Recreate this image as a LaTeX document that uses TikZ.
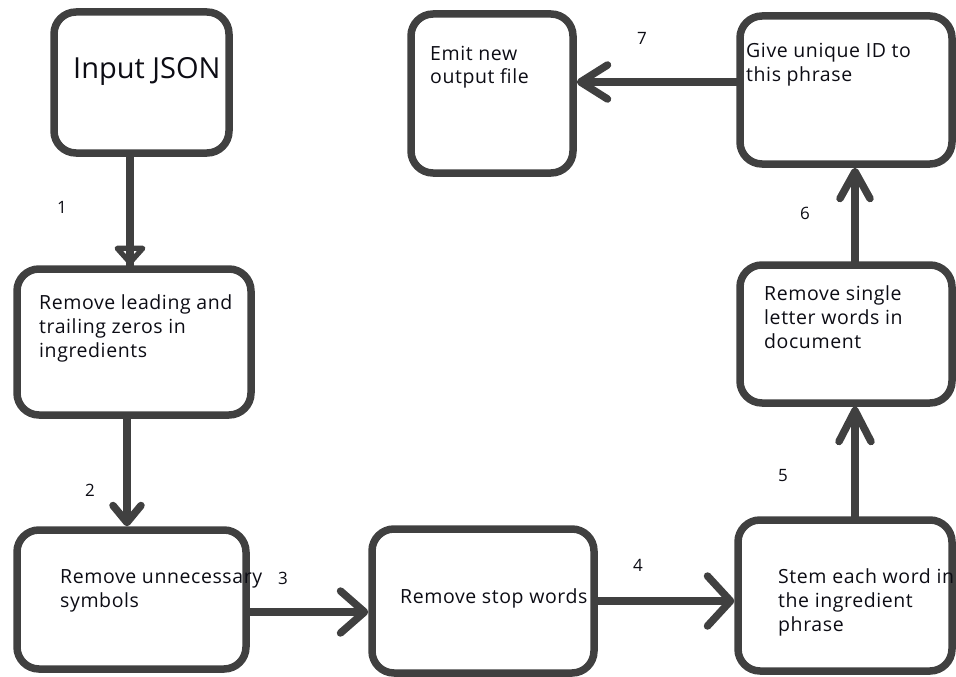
\documentclass[tikz,border=0pt]{standalone}
\usepackage{fontspec}
\setmainfont{Open Sans}
\newfontfamily\boxfont[LetterSpace=3]{Open Sans}
\usetikzlibrary{arrows.meta}

\definecolor{inkgray}{RGB}{64,64,64}
\definecolor{textdark}{RGB}{12,12,20}

% left-aligned block of lines whose baseline is the first line
\newcommand{\txtlines}[1]{\begin{tabular}[t]{@{}l@{}}#1\end{tabular}}

\begin{document}
\begin{tikzpicture}[x=1pt,y=-1pt,
  stepbox/.style 2 args={draw=inkgray, line width=7.5pt, rounded corners=22pt,
    minimum width=#1pt, minimum height=#2pt, inner sep=0pt},
  steptext/.style={anchor=base west, inner sep=0pt, text=textdark,
    font=\boxfont\fontsize{19.5}{24}\selectfont},
  steplabel/.style={anchor=base, inner sep=0pt, text=textdark,
    font=\fontsize{17}{20}\selectfont},
  conn/.style={draw=inkgray, line width=7.5pt, line cap=round},
  barb/.style 2 args={-{Straight Barb[length=#1pt,width=#2pt,round]}}
]
\useasboundingbox (0,0) rectangle (956,677);

% process boxes
\node[stepbox={175}{141}] (in) at (141.5,82.5) {};
\node[stepbox={234}{146}] (b2) at (134,342) {};
\node[stepbox={229}{139}] (b3) at (131.5,599.5) {};
\node[stepbox={222}{144}] (b4) at (483,601) {};
\node[stepbox={214}{151}] (b5) at (845,595.5) {};
\node[stepbox={212}{138}] (b6) at (846,334) {};
\node[stepbox={212}{148}] (b7) at (846,90) {};
\node[stepbox={162}{159}] (b8) at (492,93.5) {};

% box texts
\node[steptext, font=\fontsize{29}{34}\selectfont] (tin) at (73,78) {Input JSON};
\node[steptext] (t2) at (39,309) {\txtlines{Remove leading and\\trailing zeros in\\ingredients}};
\node[steptext] (t3) at (60,583) {\txtlines{Remove unnecessary\\symbols}};
\node[steptext] (t4) at (400,603) {Remove stop words};
\node[steptext] (t5) at (778,583) {\txtlines{Stem each word in\\the ingredient\\phrase}};
\node[steptext] (t6) at (764,300) {\txtlines{Remove single\\letter words in\\document}};
\node[steptext] (t7) at (746,58) {\txtlines{Give unique ID to\\this phrase}};
\node[steptext] (t8) at (430,60) {\txtlines{Emit new\\output file}};

% connectors
\draw[conn, postaction={draw, -{Triangle[open,length=21pt,width=36pt,round]}}]
  ([xshift=-11.5pt]in.south) -- ([xshift=-4pt]b2.north);
\draw[conn, barb={17}{28}] ([xshift=-7pt]b2.south) -- ([xshift=-4.5pt]b3.north);
\draw[conn, barb={24}{42}] ([yshift=-12.5pt]b3.east) -- ([yshift=-11pt]b4.west);
\draw[conn, barb={23}{50}] (b4.east) -- ([yshift=-5.5pt]b5.west);
\draw[conn, barb={31}{32}] ([xshift=10pt]b5.north) -- ([xshift=9pt]b6.south);
\draw[conn, barb={27}{30}] ([xshift=9pt]b6.north) -- ([xshift=9pt]b7.south);
\draw[conn, barb={27}{34}] ([yshift=8pt]b7.west) -- ([yshift=11.5pt]b8.east);

% step numbers
\node[steplabel] (n1) at (62,213.5) {1};
\node[steplabel] (n2) at (90,496.5) {2};
\node[steplabel] (n3) at (283,584.5) {3};
\node[steplabel] (n4) at (638,571.5) {4};
\node[steplabel] (n5) at (783,481.5) {5};
\node[steplabel] (n6) at (805,219.5) {6};
\node[steplabel] (n7) at (642,44.5) {7};
\end{tikzpicture}
\end{document}
